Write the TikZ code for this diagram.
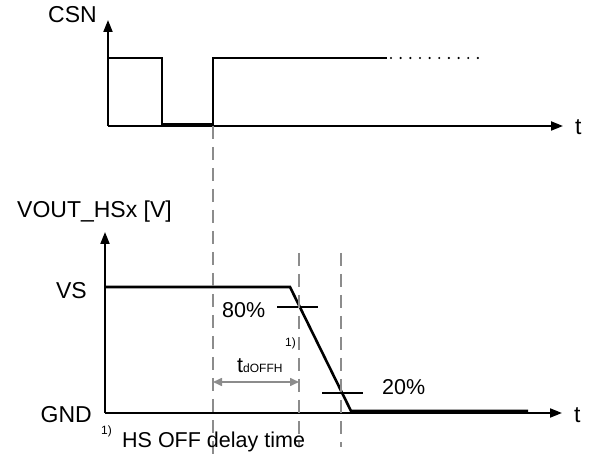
\documentclass[tikz,border=0pt]{standalone}
\usepackage{fontspec}
\setmainfont{Liberation Sans}
\usetikzlibrary{arrows.meta}
\definecolor{guidegray}{RGB}{140,140,140}

\begin{document}
\begin{tikzpicture}[x=1pt,y=-1pt,
    axis/.style={line width=2pt,-{Triangle[length=12pt,width=9pt]}},
    sig/.style={line width=2.6pt},
    guide/.style={guidegray,line width=1.6pt,dash pattern=on 13pt off 8pt},
    lbl/.style={inner sep=0pt,font=\fontsize{23}{27}\selectfont},
    txt/.style={inner sep=0pt,font=\fontsize{21.5}{25}\selectfont},
    note/.style={inner sep=0pt,font=\fontsize{12}{14}\selectfont}]
    \useasboundingbox(0,0)rectangle(592,454);

    % CSN
    \coordinate(o1)at(108,126);
    \draw[axis](o1)--(108,20);
    \draw[axis](o1)--(563,126);
    \node[lbl,anchor=base east](csn)at(97,23){CSN};
    \node[lbl,anchor=base west](t1)at(575,135){t};
    \draw[sig](108,58)--(162,58)--(162,124)--(213,124)--(213,58)--(387,58);
    \draw[line width=2.4pt,line cap=round,dash pattern=on 0pt off 9.65pt](391,58)--(478,58);

    % VOUT_HSx
    \coordinate(o2)at(105,413);
    \draw[axis](o2)--(105,232);
    \draw[axis](o2)--(562,413);
    \node[lbl,anchor=base west](vout)at(17,218){VOUT\_HSx [V]};
    \node[lbl,anchor=base east](vs)at(87,299){VS};
    \node[lbl,anchor=base east](gnd)at(92,422){GND};
    \node[lbl,anchor=base west](t2)at(574,422){t};

    \coordinate(a)at(290,287);
    \coordinate(b)at(351,411);
    \draw[sig](105,287)--(a)--(b)--(528,411);
    \draw[sig](277,307)--(318,307);
    \draw[sig](322,393)--(363,393);
    \node[txt,anchor=base west](p80)at(222,318){80\%};
    \node[txt,anchor=base west](p20)at(382,395){20\%};
    \node[note,anchor=base west](n1)at(285,347){1)};

    % guides
    \coordinate(g1)at(213,382);
    \coordinate(g2)at(299,382);
    \draw[guide](213,126)--(213,454);
    \draw[guide](299,253)--(299,447);
    \draw[guide](341,253)--(341,447);
    \draw[guidegray,line width=1.6pt,{Triangle[length=9pt,width=8pt]}-{Triangle[length=9pt,width=8pt]}](g1)--(g2);
    \node[txt,anchor=base west](td)at(237,373){t{\fontsize{12}{14}\selectfont dOFFH}};

    % footnote
    \node[note,anchor=base west](n2)at(101,435){1)};
    \node[txt,anchor=base west](hs)at(122,447){HS OFF delay time};
\end{tikzpicture}
\end{document}
